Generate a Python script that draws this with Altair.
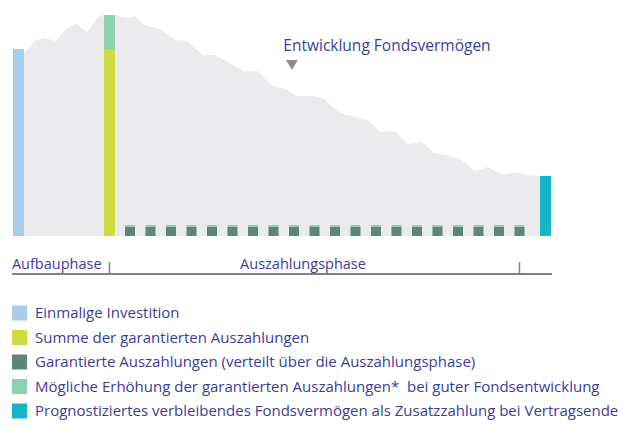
import altair as alt
import pandas as pd

# ---- data -------------------------------------------------------------
# Entwicklung Fondsvermögen (time axis in years relative to start of payout phase)
area_t = [-4.17, -3.59, -3.20, -2.61, -2.17, -1.63, -1.10, -0.51, -0.27, 0.27,
          0.80, 1.24, 1.73, 2.46, 3.24, 3.73, 4.56, 5.15, 5.88, 6.51,
          7.24, 7.98, 8.61, 9.15, 9.98, 10.46, 11.24, 11.98, 12.66, 13.20,
          13.98, 14.51, 15.24, 15.83, 16.61, 17.20, 17.83, 18.46, 19.15, 19.78,
          20.41, 21.00]
area_v = [97.9, 104.8, 105.9, 104.3, 110.2, 113.9, 109.1, 117.6, 118.2, 118.2,
          116.6, 117.6, 112.8, 110.7, 104.8, 104.8, 96.8, 96.8, 92.5, 88.2,
          88.2, 80.2, 78.6, 74.9, 74.9, 73.3, 65.8, 63.6, 61.5, 55.6,
          56.1, 49.2, 50.3, 44.4, 42.8, 40.6, 34.8, 36.9, 32.6, 34.2,
          32.6, 32.1]

categories = [
    "Einmalige Investition",
    "Summe der garantierten Auszahlungen",
    "Garantierte Auszahlungen (verteilt über die Auszahlungsphase)",
    "Mögliche Erhöhung der garantierten Auszahlungen*\u00a0 bei guter Fondsentwicklung",
    "Prognostiziertes verbleibendes Fondsvermögen als Zusatzzahlung bei Vertragsende",
]
colors = ["#a7cdeb", "#cfdc3f", "#5f8479", "#8fd0b1", "#15b4c7"]

# big bars
big_t = [-4.44, 0.0, 0.0, 21.27]
big_v0 = [0, 0, 100, 0]
big_v1 = [100, 100, 118.2, 32.1]
big_cat = [categories[0], categories[1], categories[3], categories[4]]

# yearly payouts
payout_years = list(range(1, 21))
payout_guaranteed = [5.0] * 20
payout_extra = [0.9] * 20

# phase axis
phase_start, phase_split, phase_end, phase_stop = -4.76, 0.0, 20.0, 21.59
phase_labels = ["Aufbauphase", "Auszahlungsphase"]
phase_label_t = [-4.76, 9.44]

annot_text = "Entwicklung Fondsvermögen"
annot_t, annot_v = 8.48, 99.1
marker_t, marker_v = 8.90, 91.5

# ---- tables -----------------------------------------------------------
area_df = pd.DataFrame({"t": area_t, "v": area_v})
big_df = pd.DataFrame({"t": big_t, "v0": big_v0, "v1": big_v1, "kat": big_cat})
rows = []
for yr, g, e in zip(payout_years, payout_guaranteed, payout_extra):
    rows.append({"t": yr, "v0": 0, "v1": g, "kat": categories[2]})
    rows.append({"t": yr, "v0": g, "v1": g + e, "kat": categories[3]})
small_df = pd.DataFrame(rows)

TEXT = "#3c3c9c"
FONT = "Open Sans"

xs = alt.Scale(domain=[-4.95, 23.05], nice=False, zero=False, padding=0)
ys = alt.Scale(domain=[0, 122], nice=False, padding=0)
color = alt.Color(
    "kat:N",
    scale=alt.Scale(domain=categories, range=colors),
    legend=alt.Legend(
        title=None, orient="none", legendX=4, legendY=297.5, direction="vertical",
        symbolType="square", symbolSize=225, symbolStrokeWidth=0, symbolOpacity=1,
        labelFontSize=15, labelFont=FONT, labelColor=TEXT, labelLimit=0,
        labelOffset=8, rowPadding=8.5, padding=0,
    ),
)

area = alt.Chart(area_df).mark_area(color="#ebebed").encode(
    x=alt.X("t:Q", scale=xs, axis=None),
    y=alt.Y("v:Q", scale=ys, axis=None),
)

big = alt.Chart(big_df).mark_bar(size=11).encode(
    x=alt.X("t:Q", scale=xs, axis=None),
    y=alt.Y("v0:Q", scale=ys, axis=None),
    y2="v1:Q",
    color=color,
)

small = alt.Chart(small_df).mark_bar(size=10).encode(
    x=alt.X("t:Q", scale=xs, axis=None),
    y=alt.Y("v0:Q", scale=ys, axis=None),
    y2="v1:Q",
    color=color,
)

annot = alt.Chart(pd.DataFrame({"t": [annot_t], "v": [annot_v], "s": [annot_text]})).mark_text(
    align="left", baseline="alphabetic", fontSize=15.5, font=FONT, color=TEXT
).encode(x=alt.X("t:Q", scale=xs), y=alt.Y("v:Q", scale=ys), text="s:N")

marker = alt.Chart(pd.DataFrame({"t": [marker_t], "v": [marker_v]})).mark_point(
    shape="triangle-down", filled=True, size=140, color="#8c8c8e", opacity=1
).encode(x=alt.X("t:Q", scale=xs), y=alt.Y("v:Q", scale=ys))

phase_line = alt.Chart(pd.DataFrame({"a": [phase_start], "b": [phase_stop]})).mark_rule(
    color="#4d5a5a", strokeWidth=1.5
).encode(x=alt.X("a:Q", scale=xs), x2="b:Q", y=alt.value(266))

phase_ticks = alt.Chart(pd.DataFrame({"a": [phase_split, phase_end]})).mark_rule(
    color="#7d8585", strokeWidth=1.5
).encode(x=alt.X("a:Q", scale=xs), y=alt.value(254), y2=alt.value(266))

phase_text_l = alt.Chart(pd.DataFrame({"t": phase_label_t[:1], "s": phase_labels[:1]})).mark_text(
    align="left", baseline="alphabetic", fontSize=14.5, font=FONT, color=TEXT
).encode(x=alt.X("t:Q", scale=xs), y=alt.value(261), text="s:N")
phase_text_c = alt.Chart(pd.DataFrame({"t": phase_label_t[1:], "s": phase_labels[1:]})).mark_text(
    align="center", baseline="alphabetic", fontSize=14.5, font=FONT, color=TEXT
).encode(x=alt.X("t:Q", scale=xs), y=alt.value(261), text="s:N")

chart = alt.layer(
    area, big, small, annot, marker, phase_line, phase_ticks, phase_text_l, phase_text_c
).properties(
    width=574, height=228,
    autosize=alt.AutoSizeParams(type="none"),
    padding={"left": 0, "top": 0, "right": 37, "bottom": 184},
).configure_view(strokeWidth=0)

chart.save("out.html", embed_options={"renderer": "svg", "actions": False})
